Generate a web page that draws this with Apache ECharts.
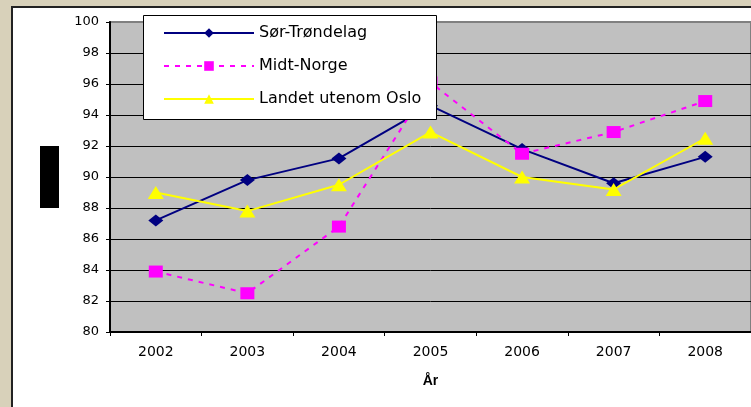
<!DOCTYPE html>
<html>
<head>
<meta charset="utf-8">
<script src="https://cdn.jsdelivr.net/npm/echarts@6/dist/echarts.min.js"></script>
<style>
html,body{margin:0;padding:0;background:#D8D1BA;width:751px;height:407px;overflow:hidden;}
#frame{position:absolute;left:11px;top:6px;width:760px;height:420px;background:#fff;border-top:2px solid #222;border-left:2px solid #222;}
#chart{position:absolute;left:0;top:0;width:751px;height:407px;}
</style>
</head>
<body>
<div id="frame"></div>
<div id="chart"></div>
<script>
const years = ['2002','2003','2004','2005','2006','2007','2008'];
const sorTrondelag = [87.2, 89.8, 91.2, 94.6, 91.8, 89.6, 91.3];
const midtNorge = [83.9, 82.5, 86.8, 96.1, 91.5, 92.9, 94.9];
const landetUtenomOslo = [89.0, 87.8, 89.5, 92.9, 90.0, 89.2, 92.5];
const seriesNames = ['Sør-Trøndelag', 'Midt-Norge', 'Landet utenom Oslo'];
const xAxisTitle = 'År';

const chart = echarts.init(document.getElementById('chart'), null, {renderer: 'canvas'});
const splitColors = ['#000','#000','#000','#000','#000','#000','#000','#000','#000','#000','#808080'];
chart.setOption({
  animation: false,
  backgroundColor: 'transparent',
  textStyle: {fontFamily: 'DejaVu Sans'},
  grid: {left: 110, top: 22, right: 0, bottom: 75, show: true, backgroundColor: '#C0C0C0', borderColor: '#808080', borderWidth: 2},
  xAxis: {
    type: 'category', data: years, boundaryGap: true,
    axisLine: {lineStyle: {color: '#000', width: 2}},
    axisTick: {show: true, length: 4, alignWithLabel: false, lineStyle: {color: '#000'}},
    axisLabel: {color: '#000', fontSize: 14, fontFamily: 'DejaVu Sans', margin: 13},
    name: xAxisTitle, nameLocation: 'middle', nameGap: 42,
    nameTextStyle: {color: '#000', fontSize: 14, fontWeight: 'bold', fontFamily: 'Liberation Sans'}
  },
  yAxis: {
    type: 'value', min: 80, max: 100, interval: 2,
    axisLine: {show: true, lineStyle: {color: '#000', width: 2}},
    axisTick: {show: true, length: 4, lineStyle: {color: '#000'}},
    axisLabel: {color: '#000', fontSize: 13, fontFamily: 'DejaVu Sans', margin: 11},
    splitLine: {show: true, lineStyle: {color: splitColors, width: 1}}
  },
  legend: {
    orient: 'vertical', left: 163, top: 25, padding: 0, z: 60,
    itemWidth: 90, itemHeight: 12, itemGap: 17,
    textStyle: {color: '#000', fontSize: 16, fontFamily: 'DejaVu Sans', lineHeight: 16},
    data: seriesNames
  },
  graphic: [
    {type: 'rect', z: 50, shape: {x: 143.5, y: 15.5, width: 293, height: 104}, style: {fill: '#fff', stroke: '#000', lineWidth: 1}},
    {type: 'rect', z: 50, shape: {x: 40, y: 146, width: 19, height: 62}, style: {fill: '#000'}}
  ],
  series: [
    {name: seriesNames[0], type: 'line', data: sorTrondelag, symbol: 'diamond', symbolSize: [15, 12],
     lineStyle: {color: '#000080', width: 2}, itemStyle: {color: '#000080'}},
    {name: seriesNames[1], type: 'line', data: midtNorge, symbol: 'rect', symbolSize: [14, 12],
     lineStyle: {color: '#FF00FF', width: 2, type: [5, 6]}, itemStyle: {color: '#FF00FF'}},
    {name: seriesNames[2], type: 'line', data: landetUtenomOslo, symbol: 'triangle', symbolSize: [16, 13],
     lineStyle: {color: '#FFFF00', width: 2}, itemStyle: {color: '#FFFF00'}}
  ]
});
</script>
</body>
</html>
